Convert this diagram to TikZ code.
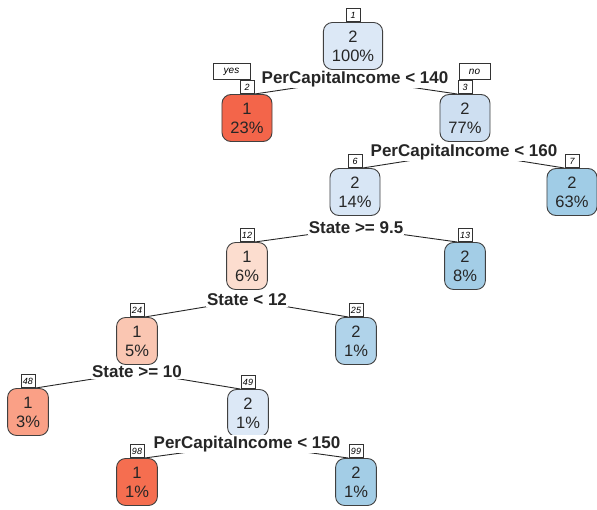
\documentclass[tikz,border=0pt]{standalone}
\usepackage{fontspec}
\setmainfont{Liberation Sans}
\usetikzlibrary{backgrounds}
\definecolor{c1}{RGB}{220,232,246}
\definecolor{c2}{RGB}{243,101,74}
\definecolor{c3}{RGB}{206,223,241}
\definecolor{c6}{RGB}{216,230,245}
\definecolor{c7}{RGB}{160,204,230}
\definecolor{c12}{RGB}{252,221,207}
\definecolor{c13}{RGB}{163,205,230}
\definecolor{c24}{RGB}{250,198,178}
\definecolor{c25}{RGB}{176,211,234}
\definecolor{c48}{RGB}{250,160,134}
\definecolor{c49}{RGB}{220,232,246}
\definecolor{c98}{RGB}{245,110,80}
\definecolor{c99}{RGB}{163,205,230}
\begin{document}
\begin{tikzpicture}[x=1pt,y=-1pt,
 leaf/.style={draw=black!75, line width=0.9pt, rounded corners=9pt, minimum height=47pt, inner xsep=8.5pt, align=center, font=\fontsize{16.5}{19}\selectfont, text=black!85},
 num/.style={draw=black!80, fill=white, line width=0.8pt, font=\fontsize{9}{9}\selectfont\itshape, inner sep=1.5pt, minimum width=14pt, minimum height=13pt, anchor=south},
 yn/.style={draw=black!80, fill=white, line width=0.8pt, font=\fontsize{10}{10}\selectfont\itshape, inner sep=1pt, minimum height=16pt},
 split/.style={fill=white, inner sep=1pt, font=\fontsize{17}{17}\selectfont\bfseries, text=black!85},
 branch/.style={draw=black!85, line width=0.9pt}]
\useasboundingbox (0,0) rectangle (597,509);
% nodes
\node[leaf, fill=c1]  (n1)  at (353,46)  {2\\100\%};
\node[leaf, fill=c2]  (n2)  at (247,118) {1\\23\%};
\node[leaf, fill=c3]  (n3)  at (465,118) {2\\77\%};
\node[leaf, fill=c6]  (n6)  at (355,192) {2\\14\%};
\node[leaf, fill=c7]  (n7)  at (572,192) {2\\63\%};
\node[leaf, fill=c12] (n12) at (247,266) {1\\6\%};
\node[leaf, fill=c13] (n13) at (465,266) {2\\8\%};
\node[leaf, fill=c24] (n24) at (137,341) {1\\5\%};
\node[leaf, fill=c25] (n25) at (356,341) {2\\1\%};
\node[leaf, fill=c48] (n48) at (28,412)  {1\\3\%};
\node[leaf, fill=c49] (n49) at (248,413) {2\\1\%};
\node[leaf, fill=c98] (n98) at (137,482) {1\\1\%};
\node[leaf, fill=c99] (n99) at (356,482) {2\\1\%};
% number boxes
\node[num] (b1)  at (n1.north)  {1};
\node[num] (b2)  at (n2.north)  {2};
\node[num] (b3)  at (n3.north)  {3};
\node[num] (b6)  at (n6.north)  {6};
\node[num] (b7)  at (n7.north)  {7};
\node[num] (b12) at (n12.north) {12};
\node[num] (b13) at (n13.north) {13};
\node[num] (b24) at (n24.north) {24};
\node[num] (b25) at (n25.north) {25};
\node[num] (b48) at (n48.north) {48};
\node[num] (b49) at (n49.north) {49};
\node[num] (b98) at (n98.north) {98};
\node[num] (b99) at (n99.north) {99};
\node[yn, anchor=south east, minimum width=37pt] (yes) at ([xshift=-4pt]b2.north east) {yes};
\node[yn, anchor=south west, minimum width=31pt] (no) at ([xshift=1pt]b3.north west) {no};
% split labels
\node[split] (s1)  at (355,79)  {PerCapitaIncome < 140};
\node[split] (s3)  at (464,152) {PerCapitaIncome < 160};
\node[split] (s6)  at (356,228) {State >= 9.5};
\node[split] (s12) at (247,300) {State < 12};
\node[split] (s24) at (137,372) {State >= 10};
\node[split] (s49) at (247,444) {PerCapitaIncome < 150};
% branches
\begin{pgfonlayer}{background}
\draw[branch] (s1.center) -- (b2.south east);
\draw[branch] (s1.center) -- (b3.south west);
\draw[branch] (s3.center) -- (b6.south east);
\draw[branch] (s3.center) -- (b7.south west);
\draw[branch] (s6.center) -- (b12.south east);
\draw[branch] (s6.center) -- (b13.south west);
\draw[branch] (s12.center) -- (b24.south east);
\draw[branch] (s12.center) -- (b25.south west);
\draw[branch] (s24.center) -- (b48.south east);
\draw[branch] (s24.center) -- (b49.south west);
\draw[branch] (s49.center) -- (b98.south east);
\draw[branch] (s49.center) -- (b99.south west);
\end{pgfonlayer}
\end{tikzpicture}
\end{document}
